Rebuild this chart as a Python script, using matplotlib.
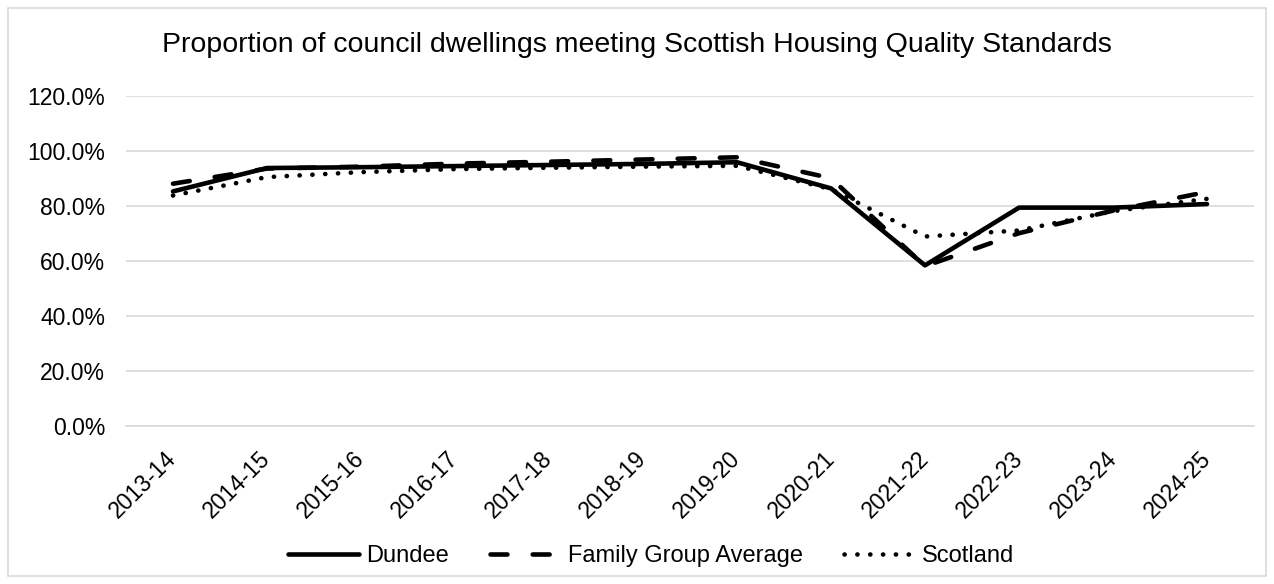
import matplotlib
matplotlib.use("Agg")
import matplotlib.pyplot as plt
from matplotlib.ticker import FuncFormatter, MultipleLocator
from matplotlib.patches import Rectangle

categories = ['2013-14', '2014-15', '2015-16', '2016-17', '2017-18', '2018-19',
              '2019-20', '2020-21', '2021-22', '2022-23', '2023-24', '2024-25']
dundee = [85.2, 93.7, 94.0, 94.4, 94.8, 95.2, 95.8, 86.3, 58.3, 79.3, 79.3, 80.6]
family_group = [88.0, 93.5, 94.2, 95.3, 96.0, 96.8, 97.6, 90.0, 58.0, 70.0, 78.2, 85.0]
scotland = [83.7, 90.4, 92.2, 93.3, 93.8, 94.2, 94.5, 86.0, 68.8, 71.0, 78.0, 82.5]

plt.rcParams['font.family'] = ['Liberation Sans', 'DejaVu Sans']

W, H = 1274, 584
fig = plt.figure(figsize=(W / 100, H / 100), dpi=100)

left, right = 126, 1254
bottom, top = 425.7, 95.7
ax = fig.add_axes([left / W, 1 - bottom / H, (right - left) / W, (bottom - top) / H])

x = list(range(len(categories)))
ax.plot(x, dundee, color='black', lw=3.3, solid_capstyle='round', solid_joinstyle='round',
        label='Dundee', zorder=3)
ax.plot(x, family_group, color='black', lw=3.3, dashes=(3.7, 5.5), dash_capstyle='round',
        label='Family Group Average', zorder=3)
ax.plot(x, scotland, color='black', lw=3.3, dashes=(0.05, 2.75), dash_capstyle='round',
        label='Scotland', zorder=3)

ax.set_xlim(-0.5, len(categories) - 0.5)
ax.set_ylim(0, 120)
ax.yaxis.set_major_locator(MultipleLocator(20))
ax.yaxis.set_major_formatter(FuncFormatter(lambda v, p: f"{v:.1f}%"))
ax.set_xticks(x)
ax.set_xticklabels(categories, rotation=45, ha='right', va='center', rotation_mode='anchor')
ax.grid(axis='y', color='#d9d9d9', lw=1.2)
ax.set_axisbelow(True)
for s in ['top', 'right', 'left']:
    ax.spines[s].set_visible(False)
ax.spines['bottom'].set_color('#d9d9d9')
ax.spines['bottom'].set_linewidth(1.2)
ax.tick_params(axis='both', length=0, labelsize=16.5, colors='#000000')
ax.tick_params(axis='y', pad=15)
ax.tick_params(axis='x', pad=21)

fig.text(0.5, 1 - 45 / H, 'Proportion of council dwellings meeting Scottish Housing Quality Standards',
         ha='center', va='center', fontsize=20.5)

leg = fig.legend(loc='center', bbox_to_anchor=(651 / W, 1 - 556 / H), ncol=3, frameon=False,
                 fontsize=17, handlelength=3.0, columnspacing=1.75, handletextpad=0.3)

fig.patches.append(Rectangle((8 / W, 8 / H), (W - 16) / W, (H - 16) / H, transform=fig.transFigure,
                             fill=False, edgecolor='#d9d9d9', lw=1.2))

fig.savefig('out.png', dpi=100)
